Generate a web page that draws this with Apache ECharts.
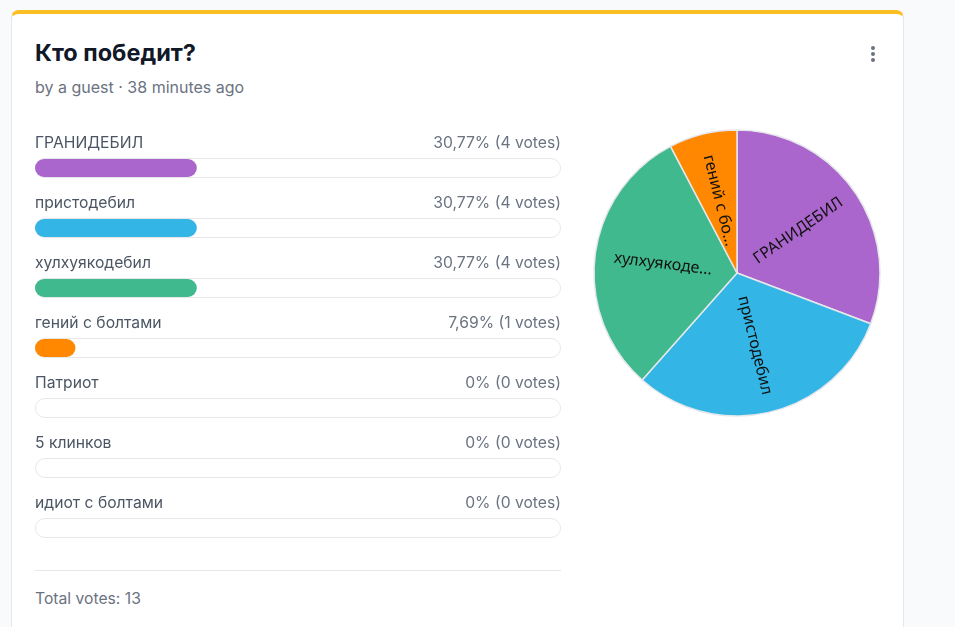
<!DOCTYPE html>
<html>
<head>
<meta charset="utf-8">
<script src="https://cdn.jsdelivr.net/npm/echarts@6/dist/echarts.min.js"></script>
<style>
  html, body { margin: 0; padding: 0; width: 955px; height: 627px; overflow: hidden; background: #f9fafb; font-family: Inter, "Noto Sans", sans-serif; }
  .card { position: absolute; left: 11px; top: 10px; width: 893px; height: 700px; background: #fff; border: 1px solid #e5e7eb; border-top: 4px solid #fbbf24; border-radius: 8px; box-sizing: border-box; }
  .title { position: absolute; left: 35px; top: 37px; font-size: 23.5px; line-height: 32px; font-weight: 700; color: #111827; }
  .sub { position: absolute; left: 35px; top: 75px; font-size: 16px; line-height: 24px; color: #6b7280; }
  .dot { position: absolute; left: 871px; width: 4px; height: 4px; border-radius: 2px; background: #6b7280; }
  .sep { position: absolute; left: 35px; top: 570px; width: 526px; height: 1px; background: #e5e7eb; }
  .total { position: absolute; left: 35px; top: 588px; font-size: 15.7px; line-height: 22px; color: #6b7280; }
  #chart { position: absolute; left: 0; top: 0; width: 955px; height: 627px; }
</style>
</head>
<body>
<div class="card"></div>
<div class="title">Кто победит?</div>
<div class="sub">by a guest · 38 minutes ago</div>
<div class="dot" style="top:46px"></div>
<div class="dot" style="top:52px"></div>
<div class="dot" style="top:58px"></div>
<div class="sep"></div>
<div class="total" id="total"></div>
<div id="chart"></div>
<script>
const options = ['ГРАНИДЕБИЛ', 'пристодебил', 'хулхуякодебил', 'гений с болтами', 'Патриот', '5 клинков', 'идиот с болтами'];
const votes = [4, 4, 4, 1, 0, 0, 0];
const colors = ['#aa66cc', '#33b5e5', '#40b98f', '#ff8800', '#9ca3af', '#9ca3af', '#9ca3af'];
const pieLabelMaxWidths = [200, 200, 108, 97, 100, 100, 100];

const total = votes.reduce((a, b) => a + b, 0);
document.getElementById('total').textContent = 'Total votes: ' + total;
const pct = votes.map(v => total ? v / total * 100 : 0);
function fmtPct(p) {
  const s = (Math.round(p * 100) / 100).toString();
  return s.replace('.', ',') + '%';
}

const pieFont = '16px "Noto Sans"';
const ctx = document.createElement('canvas').getContext('2d');
function fitText(text, maxW) {
  ctx.font = pieFont;
  if (ctx.measureText(text).width <= maxW) return text;
  let s = text;
  while (s.length > 1 && ctx.measureText(s + '...').width > maxW) s = s.slice(0, -1);
  return s + '...';
}

function render() {
  const chart = echarts.init(document.getElementById('chart'));
  chart.setOption({
    animation: false,
    grid: { left: 35, width: 526, top: 138, height: 420 },
    xAxis: { type: 'value', min: 0, max: 100, show: false },
    yAxis: [
      { type: 'category', data: options, inverse: true, show: false },
      { type: 'category', data: options, inverse: true, show: false }
    ],
    series: [
      {
        type: 'bar',
        yAxisIndex: 0,
        barWidth: 20,
        silent: true,
        data: options.map(() => 100),
        itemStyle: { color: '#ffffff', borderColor: '#e5e7eb', borderWidth: 1, borderRadius: 10 },
        label: {
          show: true,
          position: [0, -15],
          align: 'left',
          verticalAlign: 'middle',
          width: 526,
          formatter: (p) => '{n|' + options[p.dataIndex] + '}{v|' + fmtPct(pct[p.dataIndex]) + ' (' + votes[p.dataIndex] + ' votes)}',
          rich: {
            n: { fontFamily: 'Inter', fontSize: 15.7, color: '#4b5563', align: 'left' },
            v: { fontFamily: 'Inter', fontSize: 15.7, color: '#6b7280', align: 'right' }
          }
        },
        z: 1
      },
      {
        type: 'bar',
        yAxisIndex: 1,
        barWidth: 18,
        silent: true,
        data: pct.map((p, i) => ({ value: p, itemStyle: { color: colors[i] } })),
        itemStyle: { borderRadius: 9 },
        z: 2
      },
      {
        type: 'pie',
        center: [737, 273],
        radius: [0, 143],
        startAngle: 90,
        clockwise: true,
        silent: true,
        itemStyle: { borderColor: '#e5e7eb', borderWidth: 1.5 },
        label: {
          show: true,
          position: 'inside',
          rotate: 'radial',
          color: '#111111',
          fontFamily: 'Noto Sans',
          fontSize: 16,
          formatter: (p) => fitText(p.name, pieLabelMaxWidths[options.indexOf(p.name)])
        },
        labelLine: { show: false },
        data: options.map((n, i) => ({
          name: n, value: votes[i],
          itemStyle: { color: colors[i] }
        })).filter(d => d.value > 0)
      }
    ]
  });
}
if (document.fonts && document.fonts.load) {
  document.fonts.load(pieFont).then(render, render);
} else {
  render();
}
</script>
</body>
</html>
